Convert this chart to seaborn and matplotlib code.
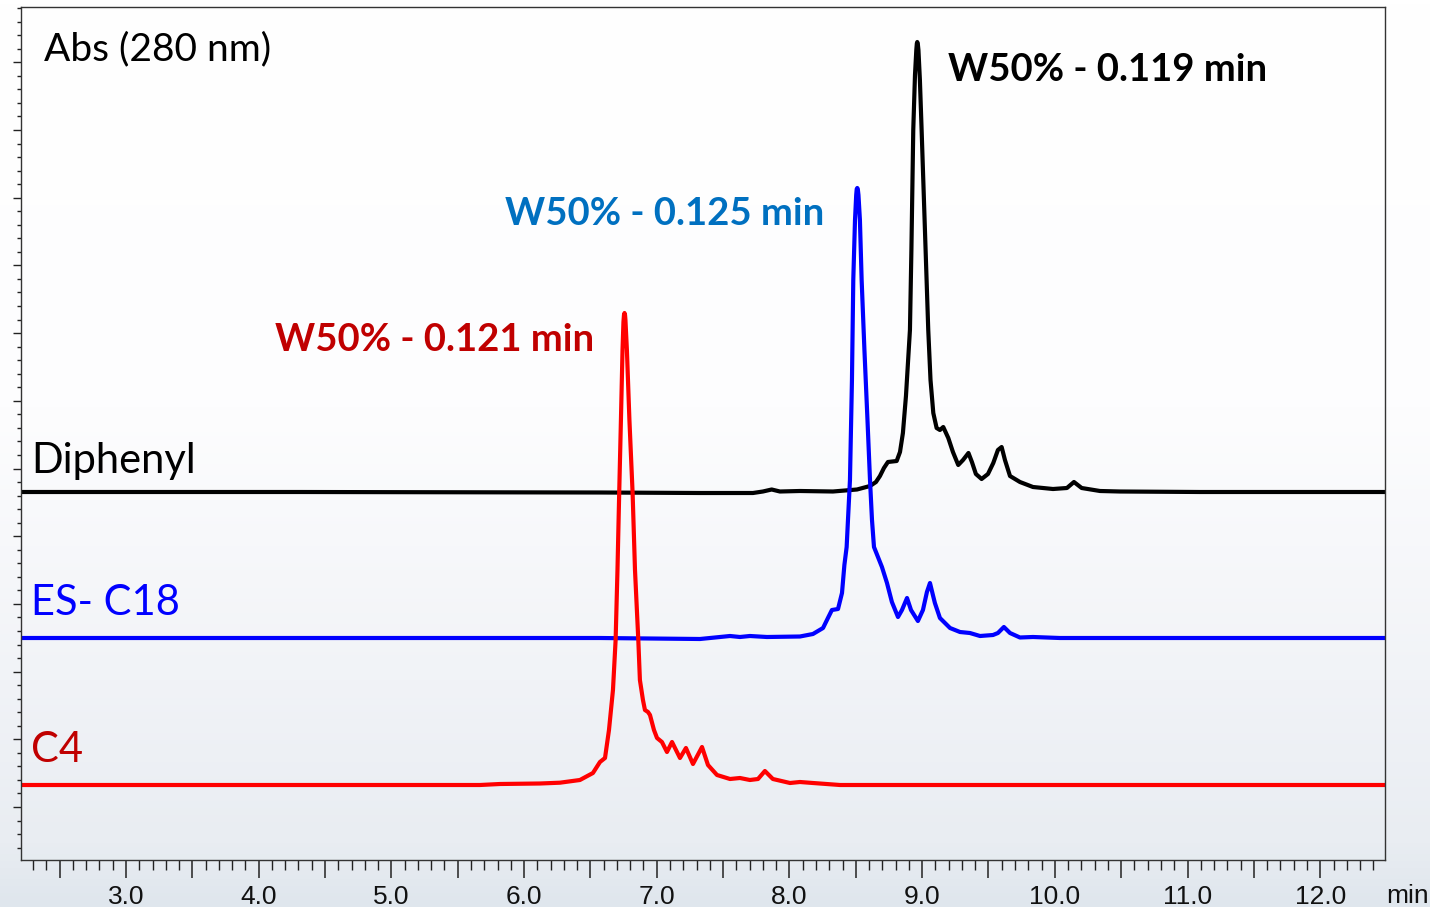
import numpy as np
import pandas as pd
import matplotlib
matplotlib.use("Agg")
import matplotlib.pyplot as plt
from matplotlib.ticker import FixedLocator, NullFormatter
from matplotlib.colors import LinearSegmentedColormap
import seaborn as sns

# ---------------- data (retention time in min, absorbance above baseline) -------------
C4_T = [2.209, 4.311, 5.668, 5.818, 6.120, 6.270, 6.421, 6.519, 6.572, 6.610, 6.640, 6.670,
        6.690, 6.704, 6.717, 6.730, 6.742, 6.749, 6.753, 6.757, 6.761, 6.764, 6.775, 6.794,
        6.818, 6.836, 6.861, 6.873, 6.896, 6.911, 6.934, 6.949, 6.979, 7.002, 7.039, 7.077,
        7.115, 7.175, 7.220, 7.273, 7.341, 7.386, 7.454, 7.552, 7.627, 7.702, 7.763, 7.815,
        7.875, 8.004, 8.079, 8.177, 8.381, 9.586, 12.488]
C4_A = [0, 0, 0, 0.1, 0.15, 0.23, 0.5, 1.2, 2.3, 2.7, 5.5, 9.5,
        14.5, 21.5, 29.2, 36.5, 43.5, 46.3, 47.0, 47.2, 47.0, 46.5, 43.5, 36.5,
        29.2, 21.5, 14.5, 10.5, 8.5, 7.5, 7.3, 7.0, 5.5, 4.7, 4.3, 3.3,
        4.3, 2.7, 3.7, 2.1, 3.8, 2.0, 1.0, 0.6, 0.7, 0.5, 0.6, 1.4,
        0.6, 0.2, 0.3, 0.2, 0, 0, 0]

C18_T = [2.209, 4.311, 6.572, 7.326, 7.552, 7.627, 7.702, 7.830, 8.079, 8.177, 8.253, 8.290,
         8.320, 8.366, 8.396, 8.414, 8.431, 8.441, 8.456, 8.471, 8.481, 8.494, 8.503, 8.507,
         8.511, 8.515, 8.520, 8.531, 8.544, 8.565, 8.588, 8.607, 8.622, 8.637, 8.667, 8.697,
         8.735, 8.772, 8.818, 8.848, 8.886, 8.916, 8.968, 9.006, 9.036, 9.059, 9.081, 9.096,
         9.134, 9.210, 9.285, 9.360, 9.436, 9.534, 9.571, 9.616, 9.662, 9.737, 9.835, 10.038,
         11.093, 12.488]
C18_A = [0, 0, 0, -0.1, 0.2, 0.1, 0.2, 0.1, 0.15, 0.4, 1.0, 2.0,
         2.8, 2.9, 4.5, 7.3, 9.1, 11.8, 15.8, 25.8, 35.8, 41.8, 44.3, 44.9,
         45.0, 44.9, 44.3, 41.8, 35.8, 28.8, 21.8, 15.8, 11.8, 9.1, 8.1, 7.1,
         5.5, 3.6, 2.1, 2.8, 4.0, 2.8, 1.7, 2.8, 4.6, 5.5, 4.3, 3.5,
         2.0, 1.0, 0.6, 0.5, 0.2, 0.3, 0.5, 1.1, 0.5, 0.05, 0.1, 0,
         0, 0]

DIPH_T = [2.209, 4.311, 6.572, 7.326, 7.725, 7.800, 7.866, 7.928, 8.079, 8.328, 8.509, 8.607,
          8.652, 8.682, 8.712, 8.742, 8.808, 8.833, 8.855, 8.878, 8.908, 8.919, 8.933, 8.946,
          8.956, 8.960, 8.963, 8.967, 8.972, 8.983, 8.996, 9.021, 9.046, 9.063, 9.084, 9.109,
          9.134, 9.159, 9.197, 9.232, 9.272, 9.308, 9.349, 9.375, 9.405, 9.448, 9.496, 9.536,
          9.571, 9.599, 9.624, 9.662, 9.737, 9.835, 9.986, 10.091, 10.144, 10.202, 10.340, 10.491,
          11.093, 12.488]
DIPH_A = [0, 0, -0.05, -0.1, -0.1, 0.05, 0.25, 0.05, 0.1, 0.05, 0.25, 0.6,
          1.0, 1.6, 2.4, 3.0, 3.1, 4.0, 5.9, 9.6, 16.2, 24.2, 36.2, 41.7,
          44.2, 44.85, 45.0, 44.85, 44.2, 41.2, 36.2, 26.2, 16.2, 11.2, 7.9, 6.4,
          6.2, 6.5, 5.4, 4.0, 2.7, 3.2, 3.9, 3.0, 1.8, 1.3, 1.8, 2.9,
          4.2, 4.5, 3.2, 1.6, 1.0, 0.5, 0.3, 0.4, 1.0, 0.4, 0.1, 0.05,
          0, 0]

SERIES = ["C4", "ES- C18", "Diphenyl"]
W50 = ["W50% - 0.121 min", "W50% - 0.125 min", "W50% - 0.119 min"]
X_TICK_LABELS = ["3.0", "4.0", "5.0", "6.0", "7.0", "8.0", "9.0", "10.0", "11.0", "12.0"]

# ---------------- styling ---------------------------------------------------------------
OFFSETS = {"C4": 7.5, "ES- C18": 22.2, "Diphenyl": 36.8}
LINE_COLORS = {"C4": "#ff0000", "ES- C18": "#0000ff", "Diphenyl": "#000000"}
LABEL_COLORS = {"C4": "#c00000", "ES- C18": "#0000ff", "Diphenyl": "#000000"}
W50_COLORS = ["#c00000", "#0070c0", "#000000"]

sns.set_theme(style="white")
plt.rcParams["font.family"] = ["Lato", "DejaVu Sans"]
TICK_FONT = ["Liberation Sans Narrow", "Liberation Sans", "DejaVu Sans"]

frames = []
for name, t, a in [("C4", C4_T, C4_A), ("ES- C18", C18_T, C18_A), ("Diphenyl", DIPH_T, DIPH_A)]:
    frames.append(pd.DataFrame({"t": t, "abs": np.array(a) + OFFSETS[name], "trace": name}))
df = pd.concat(frames, ignore_index=True)

W, H = 1430, 907
fig = plt.figure(figsize=(W / 100, H / 100), dpi=100)

# background gradient
bg = fig.add_axes([0, 0, 1, 1], zorder=-10)
grad = np.linspace(0, 1, 256)[:, None]
cmap = LinearSegmentedColormap.from_list(
    "bg", [(0.0, "#ffffff"), (0.45, "#fdfdfe"), (0.75, "#f1f3f7"), (0.93, "#e9edf2"), (1.0, "#dfe6ed")])
bg.imshow(grad, aspect="auto", cmap=cmap, extent=[0, 1, 0, 1], origin="upper")
bg.set_axis_off()

L, R, B, T = 21 / W, 1385 / W, 1 - 860 / H, 1 - 7 / H
ax = fig.add_axes([L, B, R - L, T - B])
ax.patch.set_alpha(0)

sns.lineplot(data=df, x="t", y="abs", hue="trace", hue_order=["Diphenyl", "ES- C18", "C4"],
             palette=LINE_COLORS, estimator=None, sort=False, legend=False,
             linewidth=3.0, ax=ax)
for ln in ax.get_lines():
    ln.set_solid_joinstyle("round")
    ln.set_solid_capstyle("round")

ax.set_xlim(2.209, 12.488)
ax.set_ylim(0, 85.3)
ax.set_xlabel("")
ax.set_ylabel("")

# x ticks
major_x = np.arange(2.5, 12.01, 0.5)
ax.xaxis.set_major_locator(FixedLocator(major_x))
ax.set_xticklabels([X_TICK_LABELS[int(round(v)) - 3] if abs(v - round(v)) < 1e-6 else "" for v in major_x])
ax.xaxis.set_minor_locator(FixedLocator(np.arange(2.3, 12.45, 0.1)))
ax.tick_params(axis="x", which="major", direction="out", length=13, width=1.1, color="#222222",
               pad=5, labelsize=19, labelcolor="#111111", bottom=True)
ax.tick_params(axis="x", which="minor", direction="out", length=7, width=1.0, color="#222222",
               bottom=True)
for lbl in ax.get_xticklabels():
    lbl.set_family(TICK_FONT)

# y ticks
major_y = np.arange(5.3, 85.3, 6.77)
ax.yaxis.set_major_locator(FixedLocator(major_y))
ax.yaxis.set_minor_locator(FixedLocator(np.arange(5.3 - 1.354 * 3, 85.3, 1.354)))
ax.yaxis.set_major_formatter(NullFormatter())
ax.tick_params(axis="y", which="major", direction="out", length=6, width=1.0, color="#222222", left=True)
ax.tick_params(axis="y", which="minor", direction="out", length=3, width=1.0, color="#222222", left=True)

for s in ax.spines.values():
    s.set_visible(True)
    s.set_color("#333333")
    s.set_linewidth(1.0)


# texts
def fx(px):
    return (px - 21) / 1364


def fy(py):
    return (860 - py) / 853


ax.text(fx(44), fy(60), "Abs (280 nm)", transform=ax.transAxes, fontsize=28,
        color="#000000", va="baseline", ha="left")
label_base = {"Diphenyl": 473, "ES- C18": 615, "C4": 762}
for name in SERIES:
    ax.text(fx(31), fy(label_base[name]), name, transform=ax.transAxes, fontsize=30,
            color=LABEL_COLORS[name], va="baseline", ha="left")

w50_pos = [(275, 351), (505, 225), (948, 81)]
for txt, col, (px, py) in zip(W50, W50_COLORS, w50_pos):
    ax.text(fx(px), fy(py), txt, transform=ax.transAxes, fontsize=27.5, fontweight="bold",
            color=col, va="baseline", ha="left")

fig.text(1386 / W, 1 - 903 / H, "min", fontsize=19, color="#111111", va="baseline", ha="left",
         family=TICK_FONT)

fig.savefig("out.png", dpi=100)
